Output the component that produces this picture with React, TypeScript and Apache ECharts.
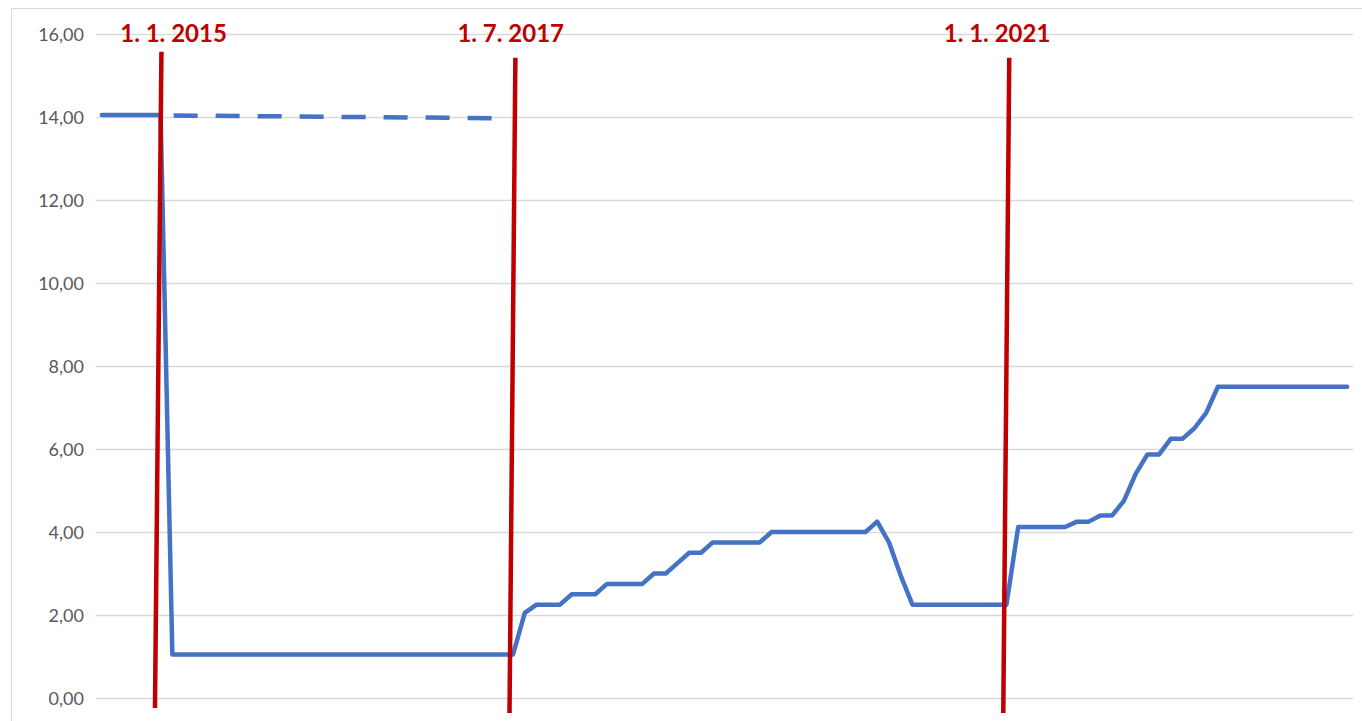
import React, { useEffect, useRef } from "react";
import * as echarts from "echarts";

// Monthly values, Aug 2014 .. Jun 2023 (107 months)
const rateValues: number[] = [
  14.05, 14.05, 14.05, 14.05, 14.05, 14.05,
  1.05, 1.05, 1.05, 1.05, 1.05, 1.05, 1.05, 1.05, 1.05, 1.05,
  1.05, 1.05, 1.05, 1.05, 1.05, 1.05, 1.05, 1.05, 1.05, 1.05,
  1.05, 1.05, 1.05, 1.05, 1.05, 1.05, 1.05, 1.05, 1.05, 1.05,
  2.05,
  2.25, 2.25, 2.25,
  2.5, 2.5, 2.5,
  2.75, 2.75, 2.75, 2.75,
  3.0, 3.0,
  3.25,
  3.5, 3.5,
  3.75, 3.75, 3.75, 3.75, 3.75,
  4.0, 4.0, 4.0, 4.0, 4.0, 4.0, 4.0, 4.0, 4.0,
  4.25,
  3.75,
  2.95,
  2.25, 2.25, 2.25, 2.25, 2.25, 2.25, 2.25, 2.25, 2.25,
  4.12, 4.12, 4.12, 4.12, 4.12,
  4.25, 4.25,
  4.4, 4.4,
  4.75,
  5.4,
  5.87, 5.87,
  6.25, 6.25,
  6.5,
  6.87,
  7.5, 7.5, 7.5, 7.5, 7.5, 7.5, 7.5, 7.5, 7.5, 7.5, 7.5, 7.5,
];

// Dashed (hypothetical) continuation: month index -> value
const dashedIndex: number[] = [5, 34];
const dashedValues: number[] = [14.04, 13.97];

const yTicks: number[] = [0, 2, 4, 6, 8, 10, 12, 14, 16];

const eventLabels: string[] = ["1. 1. 2015", "1. 7. 2017", "1. 1. 2021"];
const eventIndex: number[] = [5, 35, 77];

export default function App() {
  const ref = useRef<HTMLDivElement>(null);

  useEffect(() => {
    if (!ref.current) return;
    const chart = echarts.init(ref.current, null, { renderer: "svg" });

    const mainData = rateValues.map((v, i) => [i, v]);
    const dashData = dashedIndex.map((ix, k) => [ix, dashedValues[k]]);

    const border = {
      type: "rect",
      silent: true,
      z: -10,
      shape: { x: 11.5, y: 8.5, width: 1500, height: 900 },
      style: { fill: "none", stroke: "#D9D9D9", lineWidth: 1 },
    };

    chart.setOption({
      animation: false,
      grid: { left: 96, right: 9, top: 34, bottom: 23, containLabel: false },
      graphic: [border],
      xAxis: {
        type: "value",
        min: -0.5,
        max: rateValues.length - 0.5,
        show: false,
        splitLine: { show: false },
      },
      yAxis: {
        type: "value",
        min: yTicks[0],
        max: yTicks[yTicks.length - 1],
        interval: 2,
        axisLine: { show: false },
        axisTick: { show: false },
        splitLine: { lineStyle: { color: "#D9D9D9", width: 1.3 } },
        axisLabel: {
          color: "#595959",
          fontSize: 18,
          fontFamily: "Lato",
          margin: 12,
          formatter: (v: number) => v.toFixed(2).replace(".", ","),
        },
      },
      series: [
        {
          type: "line",
          data: mainData,
          showSymbol: false,
          symbol: "none",
          lineStyle: { color: "#4472C4", width: 4.5, cap: "round", join: "round" },
          z: 2,
        },
        {
          type: "line",
          data: dashData,
          showSymbol: false,
          symbol: "none",
          z: 3,
          lineStyle: {
            color: "#4472C4",
            width: 4.5,
            type: [24, 18],
            dashOffset: 29,
          },
        },
      ],
    });

    // annotation layout (hand-drawn, slightly slanted marker lines)
    const topDx = [0.07, 0.2, 0.24];
    const topY = [15.57, 15.43, 15.43];
    const botDx = [-0.48, -0.3, -0.27];
    const botY = [-0.24, -0.36, -0.36];
    const labelDx = [1.1, -0.2, -0.8];
    const labelY = 16.03;

    const toPx = (x: number, y: number) =>
      chart.convertToPixel({ gridIndex: 0 }, [x, y]) as number[];

    const annotations: any[] = [];
    eventIndex.forEach((ix, k) => {
      const a = toPx(ix + topDx[k], topY[k]);
      const b = toPx(ix + botDx[k], botY[k]);
      annotations.push({
        type: "line",
        silent: true,
        z: 100,
        shape: { x1: a[0], y1: a[1], x2: b[0], y2: b[1] },
        style: { stroke: "#C00000", lineWidth: 4.5 },
      });
      const c = toPx(ix + labelDx[k], labelY);
      annotations.push({
        type: "text",
        silent: true,
        z: 100,
        x: c[0],
        y: c[1],
        style: {
          text: eventLabels[k],
          fill: "#C00000",
          font: "bold 24px Lato",
          textAlign: "center",
          textVerticalAlign: "middle",
        },
      });
    });

    chart.setOption({ graphic: [border, ...annotations] });

    return () => chart.dispose();
  }, []);

  return (
    <div
      ref={ref}
      style={{ position: "fixed", left: 0, top: 0, width: 1362, height: 721, background: "#fff" }}
    />
  );
}
